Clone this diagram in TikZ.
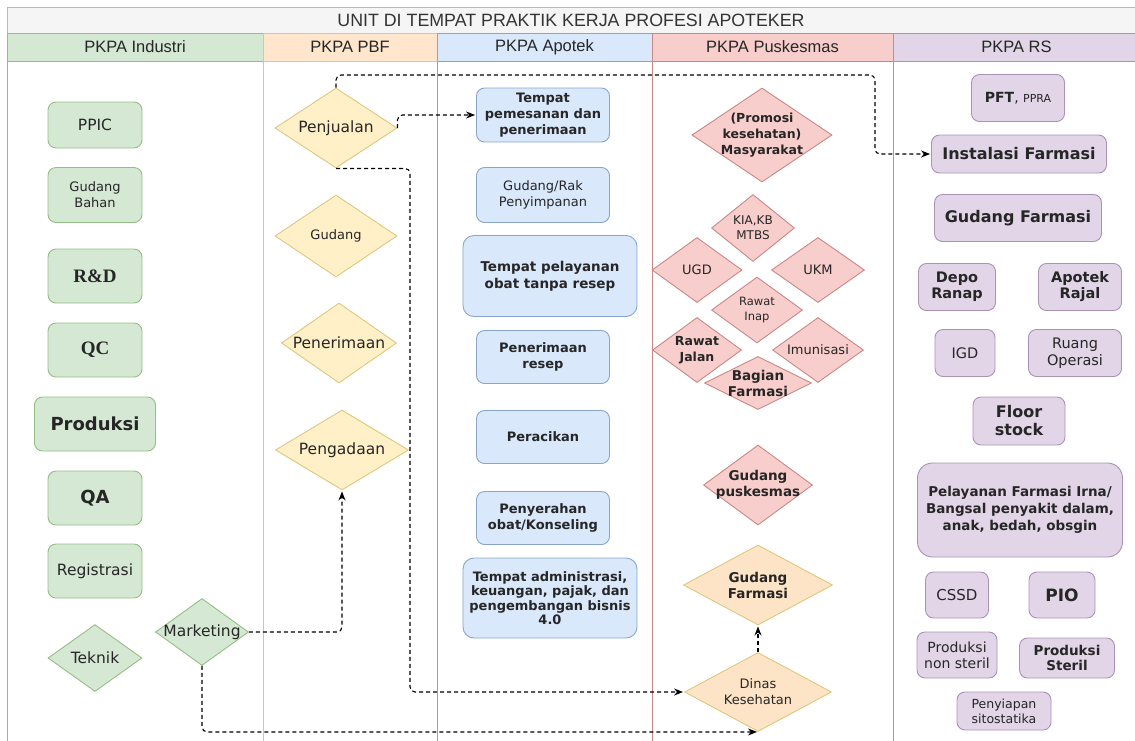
\documentclass[tikz,border=0pt]{standalone}
\usepackage{fontspec}
\setmainfont{DejaVu Sans}
\newfontfamily\headfont{Liberation Sans}
\newfontfamily\rdfont{Liberation Serif}
\newcommand{\fs}[2]{\fontsize{#1}{#2}\selectfont}
\newcommand{\drawLane}[6]{\fill[#3] (#1,33) rectangle (#2,61); \draw[#4, line width=0.9pt] (#1,33) rectangle (#2,760); \draw[#4, line width=0.9pt] (#1,61) -- (#2,61); \node[lanehead] (#5) at ({(#1+#2)/2},47) {#6};}
\usepackage{tikz}
\usetikzlibrary{arrows.meta, positioning, shapes.geometric}
\definecolor{indfill}{HTML}{D5E8D4}
\definecolor{inddraw}{HTML}{96BE84}
\definecolor{pbffill}{HTML}{FFF0C8}
\definecolor{pbfdraw}{HTML}{DEC77E}
\definecolor{pbfhead}{HTML}{FFE6CC}
\definecolor{dinfill}{HTML}{FDE4C6}
\definecolor{aptfill}{HTML}{DAE8FC}
\definecolor{aptdraw}{HTML}{8AA5CC}
\definecolor{pkmfill}{HTML}{F8CECC}
\definecolor{pkmdraw}{HTML}{C98884}
\definecolor{rsfill}{HTML}{E1D5E7}
\definecolor{rsdraw}{HTML}{A992B6}
\tikzset{x=1pt, y=-1pt, >={Stealth[length=9pt,width=7pt]}, thick,
    lanehead/.style={font=\headfont\fs{16.5}{19}, text=black!85},
    box/.style={rectangle, draw, rounded corners=8pt, line width=0.9pt, align=center, inner sep=1pt, text=black!85},
    dia/.style={diamond, draw, line width=0.9pt, inner sep=0pt},
    sz/.style 2 args={minimum width=#1pt, minimum height=#2pt},
    ind/.style={fill=indfill, draw=inddraw},
    pbf/.style={fill=pbffill, draw=pbfdraw},
    dinkes/.style={fill=dinfill, draw=pbfdraw},
    apt/.style={fill=aptfill, draw=aptdraw},
    pkm/.style={fill=pkmfill, draw=pkmdraw},
    rs/.style={fill=rsfill, draw=rsdraw},
    every label/.style={align=center, text=black!85, inner sep=0pt},
    flow/.style={->, dash pattern=on 4pt off 3pt, line width=1.1pt, rounded corners=5pt, shorten >=1pt}}
\begin{document}
\begin{tikzpicture}
\useasboundingbox (0,0) rectangle (1135,740);
% title and lanes
\draw[draw=gray!55, fill=gray!8, line width=0.9pt] (7,7) rectangle (1140,33);
\node[font=\headfont\fs{17.8}{20}, text=black!80] (title) at (571,20) {UNIT DI TEMPAT PRAKTIK KERJA PROFESI APOTEKER};
\drawLane{7}{263}{indfill}{inddraw}{hind}{PKPA Industri}
\drawLane{263}{437}{pbfhead}{pbfdraw}{hpbf}{PKPA PBF}
\drawLane{437}{652}{aptfill}{aptdraw}{hapt}{PKPA Apotek}
\drawLane{652}{893}{pkmfill}{pkmdraw}{hpkm}{PKPA Puskesmas}
\drawLane{893}{1140}{rsfill}{rsdraw}{hrs}{PKPA RS}

% industri
\node[box, ind, sz={94}{46}, font=\fs{15.5}{18}] (ppic) at (95,125) {PPIC};
\node[box, ind, sz={94}{55}, font=\fs{13}{16}] (gbahan) at (95,195) {Gudang\\Bahan};
\node[box, ind, sz={94}{54}, font=\rdfont\fs{19}{22}\bfseries] (rnd) at (95,276) {R\&D};
\node[box, ind, sz={94}{54}, font=\rdfont\fs{19}{22}\bfseries] (qc) at (95,350) {QC};
\node[box, ind, sz={121}{54}, font=\fs{18}{21}\bfseries] (prod) at (95,424) {Produksi};
\node[box, ind, sz={94}{54}, font=\fs{18}{21}\bfseries] (qa) at (95,498) {QA};
\node[box, ind, sz={94}{54}, font=\fs{15.5}{18}] (reg) at (95,571) {Registrasi};
\node[dia, ind, sz={94}{67}, label={[font=\fs{15.5}{18}]center:Teknik}] (teknik) at (95,658) {};
\node[dia, ind, sz={93}{67}, label={[font=\fs{15.5}{18}]center:Marketing}] (marketing) at (202,632) {};

% pbf
\node[dia, pbf, sz={122}{80}, label={[font=\fs{15.5}{18}]center:Penjualan}] (penjualan) at (336,128) {};
\node[dia, pbf, sz={122}{82}, label={[font=\fs{13}{16}]center:Gudang}] (gudang) at (336,236) {};
\node[dia, pbf, sz={115}{80}, label={[font=\fs{15.5}{18}]center:Penerimaan}] (penerimaan) at (339,343) {};
\node[dia, pbf, sz={133}{80}, label={[font=\fs{15.5}{18}]center:Pengadaan}] (pengadaan) at (342,450) {};

% apotek
\node[box, apt, sz={133}{54}, font=\fs{13}{16}\bfseries] (pesan) at (543,115) {Tempat\\pemesanan dan\\penerimaan};
\node[box, apt, sz={133}{55}, font=\fs{13}{16}] (rak) at (543,195) {Gudang/Rak\\Penyimpanan};
\node[box, apt, sz={174}{81}, rounded corners=11pt, font=\fs{13.5}{17}\bfseries] (tanpa) at (550,276) {Tempat pelayanan\\obat tanpa resep};
\node[box, apt, sz={133}{53}, font=\fs{13}{16}\bfseries] (resep) at (543,357) {Penerimaan\\resep};
\node[box, apt, sz={133}{53}, font=\fs{13}{16}\bfseries] (racik) at (543,437) {Peracikan};
\node[box, apt, sz={133}{53}, font=\fs{13}{16}\bfseries] (serah) at (543,518) {Penyerahan\\obat/Konseling};
\node[box, apt, sz={174}{80}, rounded corners=11pt, font=\fs{13}{14.5}\bfseries] (admin) at (550,598) {Tempat administrasi,\\keuangan, pajak, dan\\pengembangan bisnis\\4.0};

% puskesmas
\node[dia, pkm, sz={140}{94}, label={[font=\fs{12.5}{16}\bfseries]center:{(Promosi\\kesehatan)\\Masyarakat}}] (promosi) at (762,135) {};
\node[dia, pkm, sz={83}{67}, label={[font=\fs{12}{15}]center:{KIA,KB\\MTBS}}] (kia) at (753,228) {};
\node[dia, pkm, sz={90}{65}, label={[font=\fs{13}{16}]center:UGD}] (ugd) at (697,270) {};
\node[dia, pkm, sz={93}{65}, label={[font=\fs{13}{16}]center:UKM}] (ukm) at (818,270) {};
\node[dia, pkm, sz={91}{66}, label={[font=\fs{11.5}{15}]center:{Rawat\\Inap}}] (inap) at (757,310) {};
\node[dia, pkm, sz={89}{65}, label={[font=\fs{12.5}{16}\bfseries]center:{Rawat\\Jalan}}] (jalan) at (697,350) {};
\node[dia, pkm, sz={91}{65}, label={[font=\fs{13}{16}]center:Imunisasi}] (imun) at (818,350) {};
\node[dia, pkm, sz={107}{53}, label={[font=\fs{13.5}{16}\bfseries]center:{Bagian\\Farmasi}}] (bagian) at (758,383) {};
\node[dia, pkm, sz={109}{80}, label={[font=\fs{13.5}{16}\bfseries]center:{Gudang\\puskesmas}}] (gpusk) at (758,485) {};
\node[dia, dinkes, sz={149}{80}, label={[font=\fs{13.5}{16}\bfseries]center:{Gudang\\Farmasi}}] (gfarm) at (758,585) {};
\node[dia, dinkes, sz={147}{79}, label={[font=\fs{13}{16}]center:{Dinas\\Kesehatan}}] (dinas) at (758,692) {};

% rs
\node[box, rs, sz={93}{47}, font=\fs{14}{17}] (pft) at (1018,98) {\textbf{PFT}, {\fs{11}{13}PPRA}};
\node[box, rs, sz={175}{38}, font=\fs{16}{19}\bfseries] (instalasi) at (1019,154) {Instalasi Farmasi};
\node[box, rs, sz={167}{47}, font=\fs{16}{19}\bfseries] (gfrs) at (1018,218) {Gudang Farmasi};
\node[box, rs, sz={77}{47}, font=\fs{14.5}{16}\bfseries] (depo) at (957,287) {Depo\\Ranap};
\node[box, rs, sz={83}{47}, font=\fs{14.5}{16}\bfseries] (rajal) at (1080,287) {Apotek\\Rajal};
\node[box, rs, sz={60}{47}, font=\fs{14.5}{17}] (igd) at (965,353) {IGD};
\node[box, rs, sz={93}{47}, font=\fs{14.5}{16.5}] (operasi) at (1075,353) {Ruang\\Operasi};
\node[box, rs, sz={92}{48}, font=\fs{16}{18}\bfseries] (floor) at (1019,421) {Floor\\stock};
\node[box, rs, sz={205}{94}, rounded corners=15pt, font=\fs{13.5}{17}\bfseries] (irna) at (1020,510) {Pelayanan Farmasi Irna/\\Bangsal penyakit dalam,\\anak, bedah, obsgin};
\node[box, rs, sz={63}{46}, font=\fs{15}{18}] (cssd) at (957,595) {CSSD};
\node[box, rs, sz={66}{46}, font=\fs{17}{20}\bfseries] (pio) at (1062,595) {PIO};
\node[box, rs, sz={80}{46}, font=\fs{14}{16}] (nonsteril) at (957,655) {Produksi\\non steril};
\node[box, rs, sz={95}{40}, font=\fs{13.5}{15.5}\bfseries] (steril) at (1067,658) {Produksi\\Steril};
\node[box, rs, sz={94}{38}, font=\fs{12.5}{15}] (sitostatika) at (1004,711) {Penyiapan\\sitostatika};

% alur
\coordinate (topbend) at (875,75);
\coordinate (downbend) at (410,692);
\draw[flow] (penjualan.north) |- (topbend) |- (instalasi.west);
\draw[flow] (penjualan.east) |- (pesan.west);
\draw[flow] (penjualan.south) -| (downbend) -- (dinas.west);
\draw[flow] (marketing.east) -| (pengadaan.south);
\draw[flow] (marketing.south) |- (dinas.south);
\draw[flow] (dinas.north) -- (gfarm.south);
\end{tikzpicture}
\end{document}
